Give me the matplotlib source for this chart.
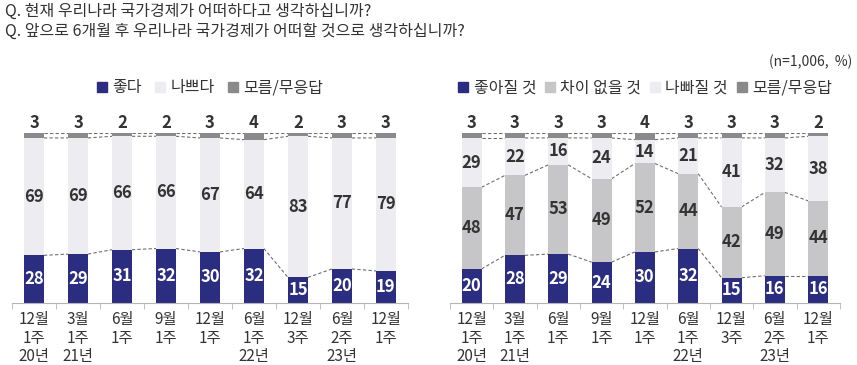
import matplotlib.pyplot as plt
import numpy as np
from matplotlib.lines import Line2D

plt.rcParams['font.family'] = ['Noto Sans CJK KR', 'DejaVu Sans']

# 데이터
periods = ["12월\n1주\n20년", "3월\n1주\n21년", "6월\n1주", "9월\n1주", "12월\n1주",
           "6월\n1주\n22년", "12월\n3주", "6월\n2주\n23년", "12월\n1주"]

now_good = [28, 29, 31, 32, 30, 32, 15, 20, 19]
now_bad = [69, 69, 66, 66, 67, 64, 83, 77, 79]
now_dk = [3, 3, 2, 2, 3, 4, 2, 3, 3]

fut_good = [20, 28, 29, 24, 30, 32, 15, 16, 16]
fut_same = [48, 47, 53, 49, 52, 44, 42, 49, 44]
fut_bad = [29, 22, 16, 24, 14, 21, 41, 32, 38]
fut_dk = [3, 3, 3, 3, 4, 3, 3, 3, 2]

left_labels = ["좋다", "나쁘다", "모름/무응답"]
right_labels = ["좋아질 것", "차이 없을 것", "나빠질 것", "모름/무응답"]

NAVY = "#2b2d80"
LIGHT = "#ececf1"
MID = "#c6c6c8"
DARK = "#8a8a8a"
TXT = "#333333"


def stacked(ax, raw_series, colors, labels, width, colspace):
    x = np.arange(len(periods))
    series = [np.array(s, dtype=float) for s in raw_series]
    total = sum(series)
    series = [s / total * 100 for s in series]
    bottom = np.zeros(len(x))
    bounds = []
    for i, (vals, raw, col) in enumerate(zip(series, raw_series, colors)):
        ax.bar(x, vals, width, bottom=bottom, color=col, zorder=2)
        last = i == len(series) - 1
        for xi, v, b, r in zip(x, vals, bottom, raw):
            if last:
                ax.text(xi, 106, f"{r}", ha="center", va="center", fontsize=12,
                        fontweight="bold", color=TXT, clip_on=False)
            else:
                ax.text(xi, b + v / 2, f"{r}", ha="center", va="center", fontsize=12,
                        fontweight="bold", color="white" if col == NAVY else TXT)
        bottom = bottom + vals
        bounds.append(bottom.copy())
    # 점선 연결
    for b in bounds:
        for i in range(len(x) - 1):
            ax.plot([x[i] + width / 2, x[i + 1] - width / 2], [b[i], b[i + 1]],
                    color="#6f6f6f", lw=0.8, ls=(0, (3, 2)), zorder=1)
    ax.set_xlim(-0.5, len(x) - 0.5)
    ax.set_ylim(0, 100)
    ax.set_yticks([])
    for s in ["top", "left", "right"]:
        ax.spines[s].set_visible(False)
    ax.spines["bottom"].set_color("#b5b5b5")
    ax.set_xticks(x)
    ax.set_xticklabels(periods, fontsize=11, color=TXT, linespacing=1.1)
    ax.tick_params(axis="x", which="major", length=0, pad=6)
    ax.set_xticks(np.arange(-0.5, len(x)), minor=True)
    ax.tick_params(axis="x", which="minor", length=4, color="#b5b5b5")
    handles = [Line2D([], [], marker="s", ls="none", color=c, markersize=6.5) for c in colors]
    ax.legend(handles, labels, loc="lower center", bbox_to_anchor=(0.5, 1.13), ncol=len(labels),
              frameon=False, fontsize=11.5, handlelength=0.7, handletextpad=0.3,
              columnspacing=colspace, labelcolor=TXT)


fig = plt.figure(figsize=(8.57, 3.65), dpi=100)
ax1 = fig.add_axes([0.014, 0.170, 0.462, 0.466])
ax2 = fig.add_axes([0.525, 0.170, 0.455, 0.466])

stacked(ax1, [now_good, now_bad, now_dk], [NAVY, LIGHT, DARK], left_labels, 0.45, 0.8)
stacked(ax2, [fut_good, fut_same, fut_bad, fut_dk], [NAVY, MID, LIGHT, DARK], right_labels, 0.46, 0.5)

fig.text(0.006, 0.970, "Q. 현재 우리나라 국가경제가 어떠하다고 생각하십니까?",
         fontsize=11.5, color=TXT, va="center")
fig.text(0.006, 0.915, "Q. 앞으로 6개월 후 우리나라 국가경제가 어떠할 것으로 생각하십니까?",
         fontsize=11.5, color=TXT, va="center")
fig.text(0.995, 0.83, "(n=1,006,  %)", fontsize=10, color=TXT, ha="right", va="center")

fig.savefig("out.png", dpi=100)
